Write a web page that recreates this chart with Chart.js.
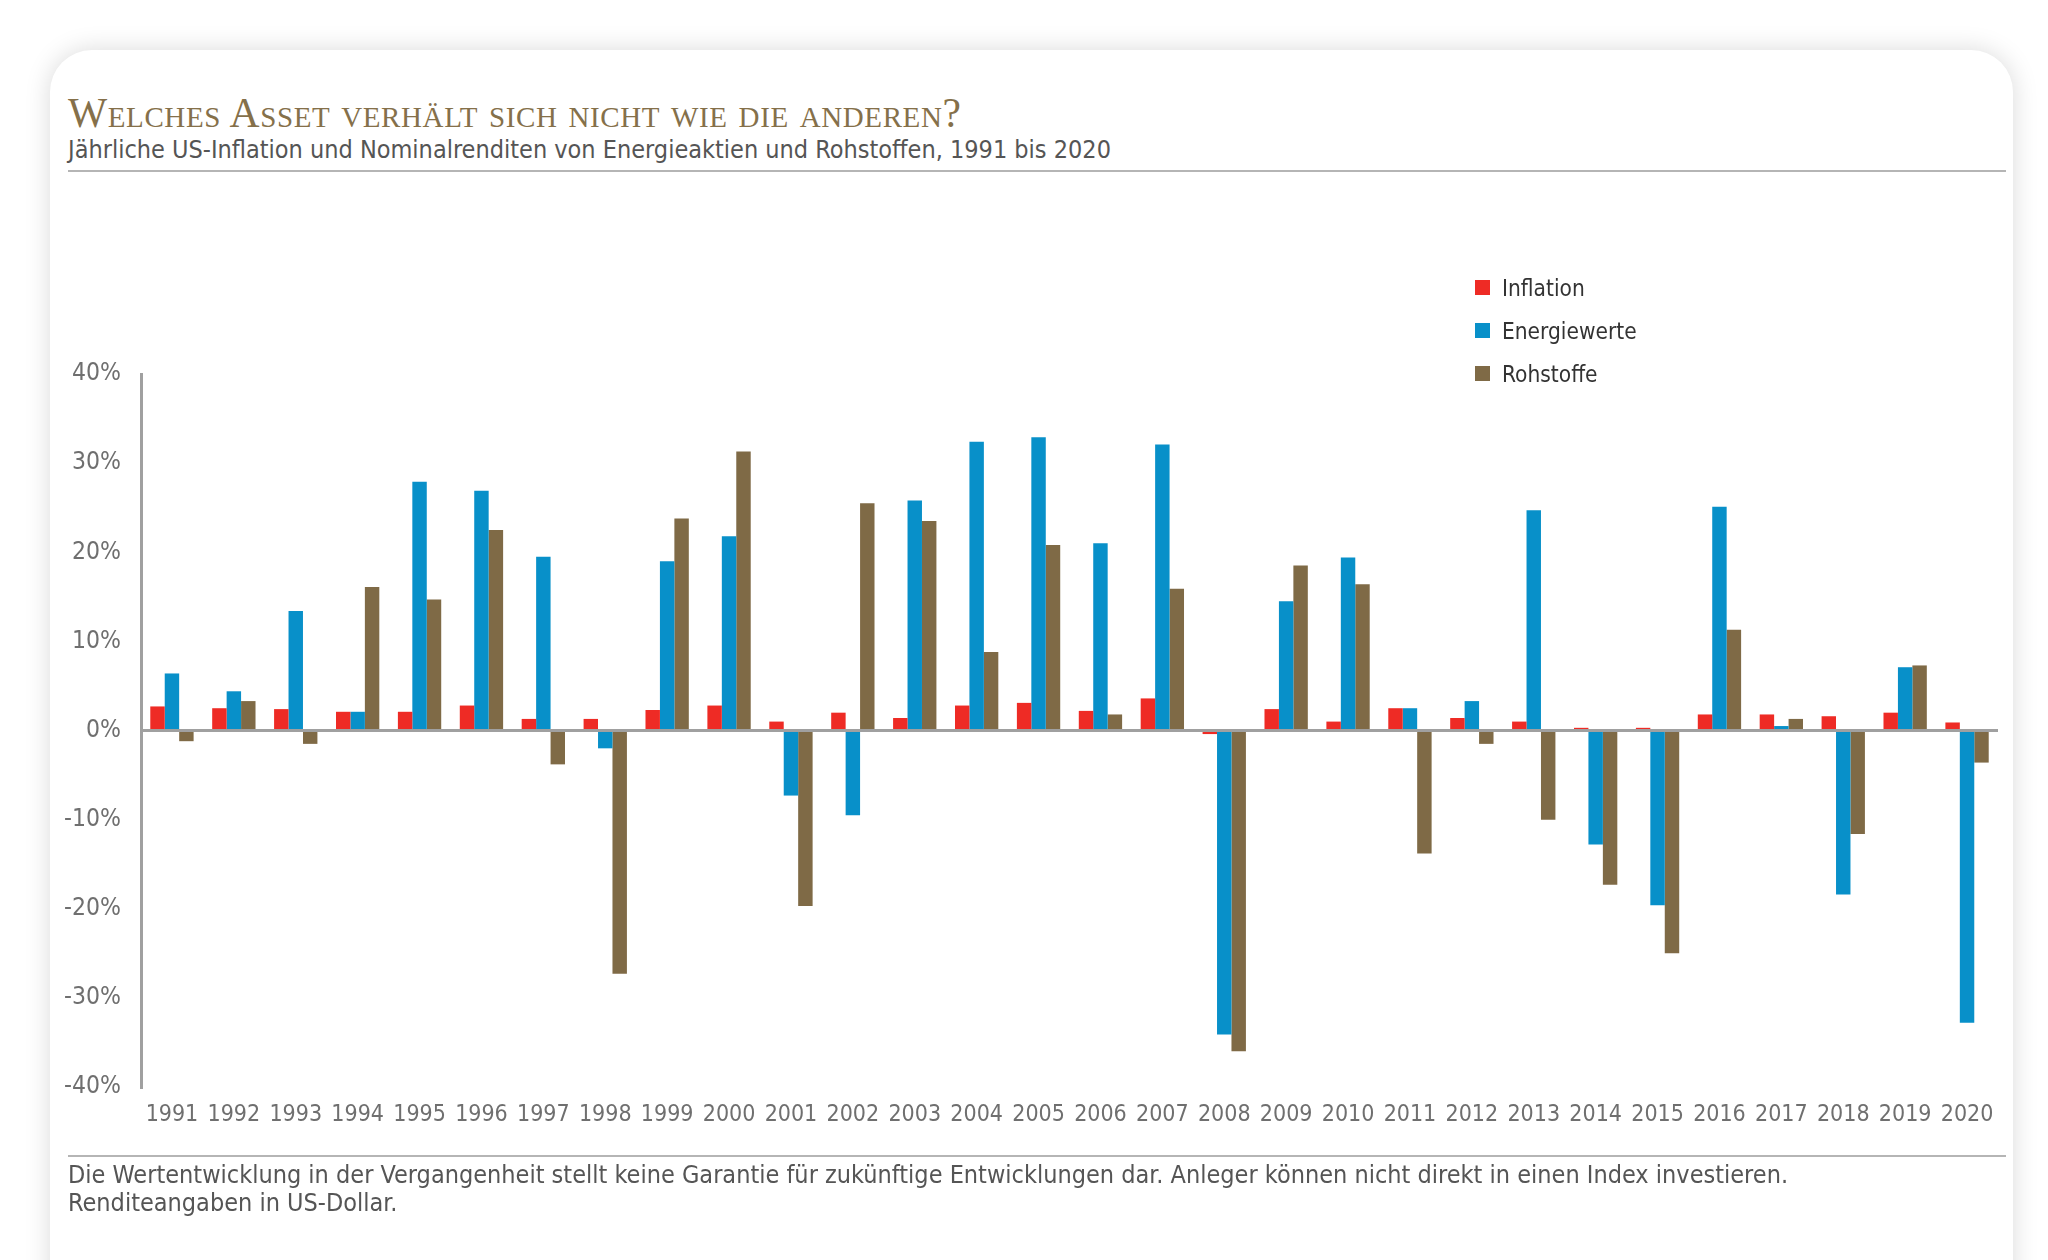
<!DOCTYPE html>
<html lang="de">
<head>
<meta charset="utf-8">
<title>Welches Asset verhält sich nicht wie die anderen?</title>
<script src="https://cdn.jsdelivr.net/npm/chart.js@4.4.1/dist/chart.umd.min.js"></script>
<style>
  html, body { margin: 0; padding: 0; background: #fff; }
  body { width: 2048px; height: 1260px; position: relative; overflow: hidden; font-family: "DejaVu Sans Condensed", "DejaVu Sans", sans-serif; }
  .card {
    position: absolute; left: 50px; top: 50px; width: 1963px; height: 1300px;
    background: #fff; border-radius: 42px;
    box-shadow: 0 0 26px rgba(0,0,0,0.15);
  }
  .title {
    position: absolute; left: 68px; top: 93px; margin: 0;
    font-family: "Liberation Serif", "DejaVu Serif", serif; font-weight: normal;
    font-variant: small-caps; font-size: 41.5px; letter-spacing: 0.6px; color: #85704a;
    line-height: 1;
  }
  .subtitle {
    position: absolute; left: 68px; top: 137px; margin: 0;
    font-size: 25px; color: #555; line-height: 1; white-space: nowrap;
  }
  .rule { position: absolute; left: 68px; width: 1938px; height: 0; border-top: 2px solid #b5b5b5; }
  .note {
    position: absolute; left: 68px; top: 1161px; margin: 0;
    font-size: 25px; color: #555; line-height: 28px;
  }
  .chart-box { position: absolute; left: 0; top: 0; width: 2048px; height: 1260px; }
  .legend-container { position: absolute; left: 1475px; top: 266px; }
  .legend-item { display: flex; align-items: center; height: 43px; font-size: 22.5px; color: #333; }
  .legend-color { display: inline-block; width: 15px; height: 15px; margin-right: 12px; }
</style>
</head>
<body>
<div class="card"></div>
<h1 class="title">Welches Asset verhält sich nicht wie die anderen?</h1>
<p class="subtitle">Jährliche US-Inflation und Nominalrenditen von Energieaktien und Rohstoffen, 1991 bis 2020</p>
<div class="rule" style="top:170px"></div>
<div class="chart-box"><canvas id="returnsChart"></canvas></div>
<div class="legend-container"></div>
<div class="rule" style="top:1155px"></div>
<p class="note">Die Wertentwicklung in der Vergangenheit stellt keine Garantie für zukünftige Entwicklungen dar. Anleger können nicht direkt in einen Index investieren.<br>Renditeangaben in US-Dollar.</p>

<script>
const years = ['1991', '1992', '1993', '1994', '1995', '1996', '1997', '1998', '1999', '2000',
    '2001', '2002', '2003', '2004', '2005', '2006', '2007', '2008', '2009', '2010',
    '2011', '2012', '2013', '2014', '2015', '2016', '2017', '2018', '2019', '2020'];

const inflation = [2.7, 2.5, 2.4, 2.1, 2.1, 2.8, 1.3, 1.3, 2.3, 2.8,
    1.0, 2.0, 1.4, 2.8, 3.1, 2.2, 3.6, -0.4, 2.4, 1.0,
    2.5, 1.4, 1.0, 0.3, 0.3, 1.8, 1.8, 1.6, 2.0, 0.9];

const energy = [6.4, 4.4, 13.4, 2.1, 27.9, 26.9, 19.5, -2.0, 19.0, 21.8,
    -7.3, -9.5, 25.8, 32.4, 32.9, 21.0, 32.1, -34.1, 14.5, 19.4,
    2.5, 3.3, 24.7, -12.8, -19.6, 25.1, 0.5, -18.4, 7.1, -32.8];

const commodities = [-1.2, 3.3, -1.5, 16.1, 14.7, 22.5, -3.8, -27.3, 23.8, 31.3,
    -19.7, 25.5, 23.5, 8.8, 20.8, 1.8, 15.9, -36.0, 18.5, 16.4,
    -13.8, -1.5, -10.0, -17.3, -25.0, 11.3, 1.3, -11.6, 7.3, -3.6];

const seriesNames = ['Inflation', 'Energiewerte', 'Rohstoffe'];
const colors = ['#ee2b25', '#0890c9', '#7f6a46'];

// y axis range in percent
const yMin = -40;
const yMax = 40;
const yStep = 10;

const ctx = document.getElementById('returnsChart').getContext('2d');
new Chart(ctx, {
    type: 'bar',
    data: {
        labels: years,
        datasets: [inflation, energy, commodities].map((values, i) => ({
            label: seriesNames[i],
            data: values,
            backgroundColor: colors[i],
            borderWidth: 0,
            categoryPercentage: 0.7,
            barPercentage: 1.0
        }))
    },
    options: {
        responsive: true,
        maintainAspectRatio: false,
        animation: false,
        layout: { padding: { left: 0, right: 50, top: 374, bottom: 0 } },
        plugins: {
            legend: { display: false },
            tooltip: { enabled: false }
        },
        scales: {
            x: {
                grid: { display: false, drawTicks: false },
                border: { display: false },
                ticks: {
                    color: '#6f6f6f',
                    padding: 14,
                    maxRotation: 0,
                    autoSkip: false,
                    font: { family: '"DejaVu Sans Condensed", "DejaVu Sans", sans-serif', size: 23 }
                },
                afterFit: scale => { scale.height = 173; }
            },
            y: {
                min: yMin,
                max: yMax,
                ticks: {
                    stepSize: yStep,
                    color: '#6f6f6f',
                    padding: 20,
                    font: { family: '"DejaVu Sans Condensed", "DejaVu Sans", sans-serif', size: 24.5 },
                    callback: v => v + '%'
                },
                grid: {
                    drawTicks: false,
                    lineWidth: 3,
                    color: c => (c.tick && c.tick.value === 0) ? '#a0a0a0' : 'rgba(0,0,0,0)'
                },
                border: { display: true, color: '#a0a0a0', width: 3 },
                afterFit: scale => { scale.width = 141; }
            }
        }
    }
});

// legend
const legendContainer = document.querySelector('.legend-container');
seriesNames.forEach((name, index) => {
    const legendItem = document.createElement('div');
    legendItem.className = 'legend-item';
    legendItem.innerHTML = `
        <span class="legend-color" style="background-color: ${colors[index]}"></span>
        <span class="legend-text">${name}</span>
    `;
    legendContainer.appendChild(legendItem);
});
</script>
</body>
</html>
